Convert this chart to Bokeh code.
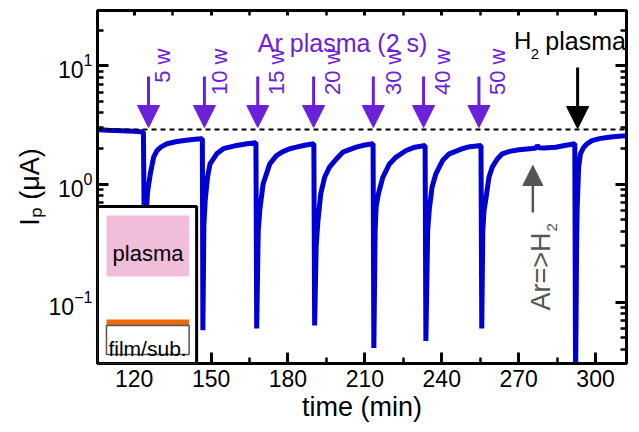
import numpy as np
from bokeh.plotting import figure
from bokeh.models import (Range1d, FixedTicker, LinearAxis, LogAxis, Span, Arrow,
                          NormalHead, Label, BoxAnnotation, CustomLabelingPolicy, Title)
from bokeh.embed import file_html
from bokeh.resources import INLINE

# ---------------- data ----------------
time_min = [105.7, 110.0, 115.0, 120.0, 123.6,
            124.3,
            124.6, 125.2, 126.3, 127.6, 128.9, 130.5, 132.8, 136.7, 141.0, 145.7, 146.6,
            146.8,
            147.2, 147.7, 148.6, 149.6, 152.2, 154.8, 160.0, 164.0, 167.5,
            167.8,
            168.4, 169.0, 170.3, 172.9, 175.5, 178.0, 180.7, 183.3, 186.5, 190.1,
            190.4,
            191.0, 191.7, 192.8, 194.3, 196.2, 198.9, 201.4, 206.6, 210.0, 213.2,
            213.5,
            214.0, 214.4, 215.3, 217.0, 219.6, 222.2, 226.1, 229.5, 233.5,
            233.8,
            234.5, 235.1, 236.2, 237.7, 240.3, 242.9, 248.1, 251.0, 255.3,
            255.6,
            256.0, 256.5, 257.1, 258.4, 259.7, 261.7, 263.6, 266.5, 270.1, 275.3, 276.8,
            277.3, 277.9, 280.0, 284.4, 288.0, 291.9,
            292.2,
            292.6, 292.8, 293.4, 294.1, 295.4, 296.8, 298.6, 301.5, 305.1, 309.0, 312.8]
current_uA = [2.88, 2.85, 2.82, 2.79, 2.76,
              0.05,
              0.50, 0.85, 1.22, 1.69, 1.92, 2.06, 2.19, 2.29, 2.36, 2.41, 2.42,
              0.058,
              0.45, 0.72, 1.14, 1.48, 1.80, 1.99, 2.12, 2.19, 2.23,
              0.060,
              0.40, 0.60, 1.00, 1.48, 1.74, 1.88, 1.99, 2.05, 2.13, 2.19,
              0.0635,
              0.30, 0.49, 0.83, 1.14, 1.39, 1.63, 1.86, 2.05, 2.14, 2.19,
              0.041,
              0.40, 0.64, 0.83, 1.14, 1.48, 1.69, 1.92, 2.05, 2.12,
              0.047,
              0.40, 0.60, 0.94, 1.22, 1.58, 1.80, 1.99, 2.07, 2.12,
              0.060,
              0.40, 0.60, 0.72, 1.14, 1.39, 1.63, 1.80, 1.89, 1.95, 2.00, 2.02,
              2.12, 2.03, 2.02, 2.05, 2.12, 2.19,
              0.020,
              0.30, 0.60, 1.39, 1.80, 2.05, 2.20, 2.33, 2.42, 2.49, 2.54, 2.57]

ref_level = 2.89                      # dashed reference line (µA)
pulse_t = [125.6, 147.4, 168.2, 190.0, 213.3, 232.9, 254.5]   # Ar plasma pulses
pulse_labels = ["5 w", "10 w", "15 w", "20 w", "30 w", "40 w", "50 w"]
h2_t = 293.0                          # H2 plasma pulse

x_major = [120, 150, 180, 210, 240, 270, 300]
x_minor = [135, 165, 195, 225, 255, 285]
y_major = [0.1, 1, 10]
y_minor = [0.04, 0.05, 0.06, 0.07, 0.08, 0.09,
           0.2, 0.3, 0.4, 0.5, 0.6, 0.7, 0.8, 0.9,
           2, 3, 4, 5, 6, 7, 8, 9, 20]

T0, T1 = 105.69, 312.07
YMIN, YMAX = 0.0303, 29.38

# ---------------- helpers: canvas pixel -> data (for annotation placement) ----
FX0, FX1, FY0, FY1 = 97.0, 628.0, 10.0, 363.0
def tx(px):
    return T0 + (px - FX0) * (T1 - T0) / (FX1 - FX0)
def yv(py):
    lt, lb = np.log10(YMAX), np.log10(YMIN)
    return 10 ** (lt - (py - FY0) * (lt - lb) / (FY1 - FY0))

FONT = "Liberation Sans"
PURPLE = "#6B21D9"
BLUE = "#0000D4"
GRAY = "#555555"

p = figure(width=631, height=432, x_range=Range1d(T0, T1), y_range=Range1d(YMIN, YMAX),
           y_axis_type="log", output_backend="svg", toolbar_location=None,
           min_border_left=97, min_border_right=3, min_border_top=10, min_border_bottom=69)
p.background_fill_color = "white"
p.border_fill_color = "white"
p.outline_line_color = "black"
p.outline_line_width = 3
p.xgrid.visible = False
p.ygrid.visible = False


def style(ax, labels=True, maj=11, mnr=6):
    ax.axis_line_width = 3
    ax.axis_line_color = "black"
    ax.major_tick_in = maj
    ax.major_tick_out = 0
    ax.minor_tick_in = mnr
    ax.minor_tick_out = 0
    ax.major_tick_line_width = 3
    ax.minor_tick_line_width = 2.5
    ax.major_tick_line_color = "black"
    ax.minor_tick_line_color = "black"
    ax.major_label_text_font = FONT
    ax.major_label_text_color = "black"
    if labels:
        ax.major_label_text_font_size = "23px"
    else:
        ax.major_label_text_font_size = "1px"
        ax.major_label_standoff = 0
        ax.major_label_policy = CustomLabelingPolicy(code="return new Set()")


xax = p.xaxis[0]
xax.ticker = FixedTicker(ticks=x_major, minor_ticks=x_minor)
style(xax)
xax.major_label_standoff = 6

yax = p.yaxis[0]
yax.ticker = FixedTicker(ticks=y_major, minor_ticks=y_minor)
style(yax)
yax.major_label_standoff = 5

top = LinearAxis(ticker=FixedTicker(ticks=x_major, minor_ticks=x_minor))
style(top, labels=False, maj=5, mnr=5)
p.add_layout(top, "above")
right = LogAxis(ticker=FixedTicker(ticks=y_major, minor_ticks=y_minor))
style(right, labels=False)
p.add_layout(right, "right")

# axis titles (as side-panel titles so they can be shifted like the reference)
p.add_layout(Title(text="time (min)", align="center", offset=20, standoff=0,
                   text_font=FONT, text_font_size="27px", text_font_style="normal",
                   text_color="black"), "below")
p.add_layout(Title(text="I\u209a (\u03bcA)", align="center", offset=10, standoff=2,
                   text_font=FONT, text_font_size="27px", text_font_style="normal",
                   text_color="black"), "left")

# data line
p.line(time_min, current_uA, line_color=BLUE, line_width=5)

# dashed reference line
p.add_layout(Span(location=ref_level, dimension="width", line_color="black",
                  line_dash="5 4", line_width=2))

# purple arrows and labels
label_dx = [14, 15, 19, 19, 20, 19, 19]
for t, lab, dx in zip(pulse_t, pulse_labels, label_dx):
    p.add_layout(Arrow(end=NormalHead(size=22, fill_color=PURPLE, line_color=PURPLE, line_width=1),
                       x_start=t, y_start=yv(76), x_end=t, y_end=yv(127),
                       line_color=PURPLE, line_width=3))
    p.add_layout(Label(x=t, y=yv(48), x_offset=dx, text=lab, angle=np.pi / 2,
                       text_align="right", text_baseline="middle",
                       text_font=FONT, text_font_size="22px", text_color=PURPLE))

p.add_layout(Label(x=tx(343), y=yv(42), text="Ar plasma (2 s)", text_align="center",
                   text_baseline="alphabetic", text_font=FONT, text_font_size="25px",
                   text_color=PURPLE))

# H2 plasma arrow and label
p.add_layout(Arrow(end=NormalHead(size=22, fill_color="black", line_color="black", line_width=1),
                   x_start=h2_t, y_start=yv(67), x_end=h2_t, y_end=yv(128),
                   line_color="black", line_width=3))
p.add_layout(Label(x=tx(515), y=yv(40), text="H", text_font=FONT, text_font_size="24px",
                   text_baseline="alphabetic", text_color="black"))
p.add_layout(Label(x=tx(532), y=yv(53), text="2", text_font=FONT, text_font_size="15px",
                   text_baseline="alphabetic", text_color="black"))
p.add_layout(Label(x=tx(546.5), y=yv(40), text="plasma", text_font=FONT, text_font_size="25px",
                   text_baseline="alphabetic", text_color="black"))

# gray Ar => H2 marker
p.add_layout(Arrow(end=NormalHead(size=20, fill_color=GRAY, line_color=GRAY, line_width=1),
                   x_start=tx(534), y_start=yv(212), x_end=tx(534), y_end=yv(165),
                   line_color=GRAY, line_width=2.5))
p.add_layout(Label(x=tx(542), y=yv(310), text="Ar=>H", angle=np.pi / 2, text_align="left",
                   text_baseline="alphabetic", text_font=FONT, text_font_size="27px",
                   text_color=GRAY))
p.add_layout(Label(x=tx(553), y=yv(231), text="2", angle=np.pi / 2, text_align="left",
                   text_baseline="alphabetic", text_font=FONT, text_font_size="15px",
                   text_color=GRAY))

# inset schematic
p.add_layout(BoxAnnotation(left=T0, right=tx(196.5), bottom=YMIN, top=yv(206),
                           fill_color="white", fill_alpha=1, line_color="black", line_width=3,
                           line_alpha=1))
p.add_layout(BoxAnnotation(left=tx(106), right=tx(189), top=yv(215), bottom=yv(276),
                           fill_color="#F0BEDB", fill_alpha=1, line_color=None))
p.add_layout(Label(x=tx(147.7), y=yv(253), text="plasma", text_align="center",
                   text_baseline="alphabetic", text_font=FONT, text_font_size="22px",
                   text_color="black"))
p.add_layout(BoxAnnotation(left=tx(106), right=tx(189), top=yv(319), bottom=yv(325),
                           fill_color="#EE6A10", fill_alpha=1, line_color=None))
p.add_layout(BoxAnnotation(left=tx(106), right=tx(189), top=yv(325), bottom=yv(354),
                           fill_color="white", fill_alpha=1, line_color="#555555",
                           line_width=1.5, line_alpha=1))
p.add_layout(Label(x=tx(108), y=yv(348), text="film/sub.", text_align="left",
                   text_baseline="alphabetic", text_font=FONT, text_font_size="21px",
                   text_color="black"))

open("out.html", "w").write(file_html(p, INLINE))
